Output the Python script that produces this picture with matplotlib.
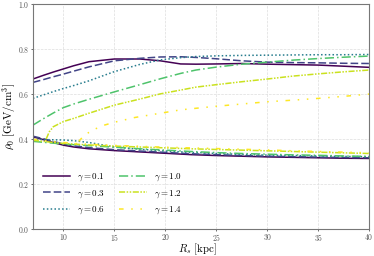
import numpy as np
import matplotlib
matplotlib.use("Agg")
import matplotlib.pyplot as plt

plt.rcParams["font.family"] = "serif"
plt.rcParams["font.serif"] = ["cmr10", "DejaVu Serif"]
plt.rcParams["mathtext.fontset"] = "cm"
plt.rcParams["axes.formatter.use_mathtext"] = True

# ── datos ──────────────────────────────────────────────────
gammas = [0.1, 0.3, 0.6, 1.0, 1.2, 1.4]

R_up = [7, 8, 9, 10, 11, 12.5, 15, 17.5, 19.5, 21.5, 23, 25, 27.5, 30, 32.5, 35, 37.5, 40]
rho_up_01 = [0.667, 0.683, 0.698, 0.712, 0.726, 0.744, 0.756, 0.756, 0.748, 0.734, 0.733,
             0.734, 0.736, 0.733, 0.731, 0.729, 0.724, 0.719]
rho_up_03 = [0.652, 0.664, 0.677, 0.689, 0.702, 0.721, 0.748, 0.759, 0.765, 0.766, 0.763,
             0.757, 0.748, 0.742, 0.740, 0.739, 0.737, 0.736]
rho_up_06 = [0.581, 0.596, 0.611, 0.625, 0.638, 0.659, 0.700, 0.732, 0.752, 0.762, 0.767,
             0.770, 0.772, 0.773, 0.774, 0.775, 0.775, 0.776]
rho_up_10 = [0.462, 0.490, 0.516, 0.540, 0.556, 0.577, 0.610, 0.642, 0.668, 0.692, 0.707,
             0.720, 0.733, 0.742, 0.751, 0.758, 0.764, 0.769]

R_up_12 = [8.3, 8.6, 9, 10, 11, 12.5, 15, 17.5, 19.5, 21.5, 23, 25, 27.5, 30, 32.5, 35, 37.5, 40]
rho_up_12 = [0.400, 0.432, 0.455, 0.478, 0.492, 0.515, 0.551, 0.578, 0.601, 0.618, 0.631,
             0.642, 0.655, 0.667, 0.680, 0.690, 0.699, 0.707]

R_up_14 = [11.5, 12, 12.5, 13, 14, 15, 17, 19.5, 21.5, 23, 25, 27.5, 30, 32.5, 35, 37.5, 40]
rho_up_14 = [0.390, 0.415, 0.430, 0.443, 0.462, 0.475, 0.496, 0.515, 0.530, 0.537, 0.546,
             0.556, 0.566, 0.573, 0.581, 0.590, 0.600]

R_low = [7, 8, 9, 10, 11, 12.5, 15, 17.5, 20, 22.5, 25, 27.5, 30, 32.5, 35, 37.5, 40]
rho_low_01 = [0.410, 0.398, 0.385, 0.373, 0.365, 0.357, 0.349, 0.343, 0.337, 0.331, 0.327,
              0.324, 0.321, 0.319, 0.317, 0.315, 0.314]
rho_low_03 = [0.413, 0.402, 0.390, 0.378, 0.370, 0.362, 0.353, 0.347, 0.341, 0.335, 0.331,
              0.327, 0.324, 0.322, 0.320, 0.318, 0.317]
rho_low_06 = [0.400, 0.398, 0.397, 0.396, 0.393, 0.385, 0.365, 0.355, 0.347, 0.341, 0.336,
              0.332, 0.329, 0.327, 0.325, 0.323, 0.322]
rho_low_10 = [0.390, 0.386, 0.382, 0.378, 0.375, 0.371, 0.364, 0.357, 0.351, 0.345, 0.340,
              0.336, 0.333, 0.330, 0.328, 0.325, 0.323]
rho_low_12 = [0.395, 0.390, 0.385, 0.381, 0.378, 0.374, 0.369, 0.365, 0.361, 0.357, 0.354,
              0.351, 0.348, 0.345, 0.342, 0.339, 0.336]
rho_low_14 = [0.400, 0.394, 0.389, 0.385, 0.381, 0.377, 0.372, 0.368, 0.364, 0.361, 0.358,
              0.355, 0.352, 0.348, 0.345, 0.342, 0.339]

upper = [(R_up, rho_up_01), (R_up, rho_up_03), (R_up, rho_up_06),
         (R_up, rho_up_10), (R_up_12, rho_up_12), (R_up_14, rho_up_14)]
lower = [rho_low_01, rho_low_03, rho_low_06, rho_low_10, rho_low_12, rho_low_14]

colores = plt.cm.viridis([0.0, 0.2, 0.42, 0.72, 0.92, 1.0])
estilos = ["-", (0, (5, 2)), (0, (1, 1.5)), (0, (6, 2, 1, 2)),
           (0, (4, 1, 1, 1, 1, 1)), (0, (3, 5, 1, 5, 1, 5))]

# ── figura ─────────────────────────────────────────────────
fig = plt.figure(figsize=(3.74, 2.56), dpi=100)
ax = fig.add_axes([0.088, 0.105, 0.899, 0.879])

for i, g in enumerate(gammas):
    ax.plot(upper[i][0], upper[i][1], color=colores[i], linestyle=estilos[i],
            lw=1.1, label=rf"$\gamma = {g}$")
    ax.plot(R_low, lower[i], color=colores[i], linestyle=estilos[i], lw=1.1)

ax.set_xlim(7, 40)
ax.set_ylim(0, 1)
ax.set_xticks([10, 15, 20, 25, 30, 35, 40])
ax.set_yticks([0.0, 0.2, 0.4, 0.6, 0.8, 1.0])
ax.grid(True, color="#dddddd", linestyle="--", lw=0.5)
ax.tick_params(labelsize=5.5, length=1.5, width=0.6, colors="#555555", pad=0.8)
for sp in ax.spines.values():
    sp.set_color("#777777")
    sp.set_linewidth(0.8)

ax.set_xlabel(r"$R_s\ [\mathrm{kpc}]$", fontsize=7.8)
ax.set_ylabel(r"$\rho_0\ [\mathrm{GeV/cm^3}]$", fontsize=8)
ax.xaxis.set_label_coords(0.49, -0.057)
ax.yaxis.set_label_coords(-0.044, 0.5)

ax.legend(loc="lower left", ncol=2, frameon=False, fontsize=6.5,
          handlelength=3.0, columnspacing=1.6, labelspacing=0.55,
          bbox_to_anchor=(0.005, 0.02))

plt.savefig("out.png", dpi=100)
